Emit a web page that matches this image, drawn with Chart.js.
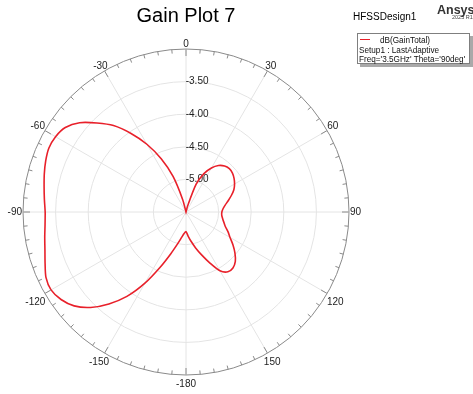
<!DOCTYPE html>
<html>
<head>
<meta charset="utf-8">
<title>Gain Plot 7</title>
<script src="https://cdn.jsdelivr.net/npm/chart.js@4/dist/chart.umd.min.js"></script>
<style>
  html, body { margin: 0; padding: 0; background: #fff; }
  #wrap { position: relative; width: 473px; height: 394px; overflow: hidden;
          font-family: "Liberation Sans", Arial, sans-serif; }
  #polar { position: absolute; left: 0; top: 0; }
  .txt { position: absolute; white-space: nowrap; line-height: 1; color: #000; }
  #legend { position: absolute; left: 357px; top: 33px; width: 113px; height: 31px;
            box-sizing: border-box; border: 1px solid #7f7f7f; background: #fff;
            box-shadow: 3px 3px 0 #a9a9a9; }
  #legend .row { position: absolute; white-space: nowrap; font-size: 8.2px;
                 line-height: 9.5px; color: #111; }
  #legend .swatch { position: absolute; left: 2px; top: 5px; width: 10px; height: 0;
                    border-top: 1px solid #e8202a; }
</style>
</head>
<body>
<div id="wrap">
  <canvas id="polar" width="473" height="394"></canvas>
  <div class="txt" style="left:86px;top:5px;width:200px;text-align:center;font-size:20px;">Gain Plot 7</div>
  <div class="txt" style="left:353px;top:12px;font-size:10px;">HFSSDesign1</div>
  <div class="txt" style="left:437px;top:4px;font-size:12.5px;font-weight:bold;color:#333;">Ansys</div>
  <div class="txt" style="left:452px;top:15px;font-size:5.5px;color:#444;">2025 R1</div>
  <div id="legend">
    <div class="swatch" id="legendSwatch"></div>
    <div class="row" id="legendName" style="left:22px;top:2px;"></div>
    <div class="row" style="left:1px;top:11.5px;">Setup1 : LastAdaptive</div>
    <div class="row" style="left:1px;top:21px;">Freq='3.5GHz' Theta='90deg'</div>
  </div>
</div>
<script>
// Phi angle of every sample (degrees, clockwise from the top spoke)
const phiDeg = [
  0, 5, 10, 15, 20, 25, 30, 35, 40, 45, 50, 55,
  60, 65, 70, 75, 80, 85, 90, 95, 100, 105, 110, 115,
  120, 125, 130, 135, 140, 145, 150, 155, 160, 165, 170, 175,
  180, -175, -170, -165, -160, -155, -150, -145, -140, -135, -130, -125,
  -120, -115, -110, -105, -100, -95, -90, -85, -80, -75, -70, -65,
  -60, -55, -50, -45, -40, -35, -30, -25, -20, -15, -10, -5
];

// dB(GainTotal) at each phi above (values under -5.50 sit at the centre)
const gainTotalDb = [
  -5.50, -5.50, -5.50, -5.40, -5.05, -4.85, -4.72, -4.63, -4.58, -4.56, -4.57, -4.60,
  -4.64, -4.69, -4.76, -4.83, -4.89, -4.93, -4.95, -4.95, -4.93, -4.90, -4.86, -4.79,
  -4.72, -4.62, -4.52, -4.43, -4.38, -4.38, -4.46, -4.64, -4.80, -4.93, -5.04, -5.13,
  -5.20, -5.17, -5.10, -4.99, -4.82, -4.57, -4.24, -3.92, -3.66, -3.43, -3.26, -3.16,
  -3.11, -3.13, -3.20, -3.26, -3.30, -3.33, -3.34, -3.32, -3.29, -3.25, -3.21, -3.18,
  -3.19, -3.24, -3.37, -3.57, -3.77, -4.03, -4.30, -4.60, -4.92, -5.30, -5.50, -5.50
];

// Labels printed around the rim every 30 degrees
const rimLabels = ['0', '30', '60', '90', '120', '150', '-180', '-150', '-120', '-90', '-60', '-30'];

// Radial (dB) axis range and ring step
const radialMin = -5.5;
const radialMax = -3.0;
const radialStep = 0.5;

const traceName = 'dB(GainTotal)';
const traceColor = '#e8202a';

const FONT = '"Liberation Sans", Arial, sans-serif';
const NBSP = '\u00a0';

// Rim tick marks (every 5 deg, longer every 30 deg) and the phi labels
const polarRim = {
  id: 'polarRim',
  afterDraw(chart) {
    const s = chart.scales.r;
    const ctx = chart.ctx;
    const R = s.getDistanceFromCenterForValue(radialMax);
    ctx.save();
    ctx.strokeStyle = '#8a8a8a';
    ctx.lineWidth = 1;
    for (let i = 0; i < phiDeg.length; i++) {
      const len = phiDeg[i] % 30 === 0 ? 7 : 4;
      const a = s.getPointPosition(i, R);
      const b = s.getPointPosition(i, R - len);
      ctx.beginPath();
      ctx.moveTo(a.x, a.y);
      ctx.lineTo(b.x, b.y);
      ctx.stroke();
    }
    ctx.font = '10px ' + FONT;
    ctx.fillStyle = '#222';
    ctx.textAlign = 'center';
    ctx.textBaseline = 'middle';
    for (let i = 0; i < phiDeg.length; i += 6) {
      const txt = rimLabels[i / 6];
      const ang = s.getIndexAngle(i);
      const sn = Math.sin(ang), cs = Math.cos(ang);
      const p = s.getPointPosition(i, R + 1);
      const w = ctx.measureText(txt).width;
      const x = p.x + sn * w / 2;
      const y = cs >= 0
        ? p.y - 3.5 * Math.min(1, 2 * cs)
        : p.y + 8 * Math.min(1, -2 * cs);
      ctx.fillText(txt, x, y);
    }
    ctx.restore();
  }
};

new Chart(document.getElementById('polar'), {
  type: 'radar',
  data: {
    labels: phiDeg.map(String),
    datasets: [{
      label: traceName,
      data: gainTotalDb,
      borderColor: traceColor,
      borderWidth: 1.6,
      fill: false,
      pointRadius: 0,
      pointHoverRadius: 0,
      tension: 0.25
    }]
  },
  options: {
    responsive: false,
    devicePixelRatio: 1,
    animation: false,
    events: [],
    layout: { padding: { left: 18, right: 119, top: 44, bottom: 14 } },
    plugins: { legend: { display: false }, tooltip: { enabled: false }, title: { display: false } },
    scales: {
      r: {
        min: radialMin,
        max: radialMax,
        startAngle: 0,
        grid: {
          circular: true,
          color: (c) => (c.tick && Math.abs(c.tick.value - radialMax) < 1e-6) ? '#8a8a8a' : '#e4e4e4',
          lineWidth: 1
        },
        angleLines: {
          display: true,
          color: (c) => (c.index % 6 === 0) ? '#e4e4e4' : 'rgba(0,0,0,0)',
          lineWidth: (c) => (c.index % 6 === 0) ? 1 : 0
        },
        pointLabels: { display: false },
        ticks: {
          stepSize: radialStep,
          showLabelBackdrop: false,
          backdropPadding: 0,
          color: '#222',
          font: { family: FONT, size: 10 },
          callback: (v) => {
            if (Math.abs(v - radialMin) < 1e-6 || Math.abs(v - radialMax) < 1e-6) return '';
            return NBSP.repeat(8) + v.toFixed(2);
          }
        }
      }
    }
  },
  plugins: [polarRim]
});

document.getElementById('legendName').textContent = traceName;
document.getElementById('legendSwatch').style.borderTopColor = traceColor;
</script>
</body>
</html>
